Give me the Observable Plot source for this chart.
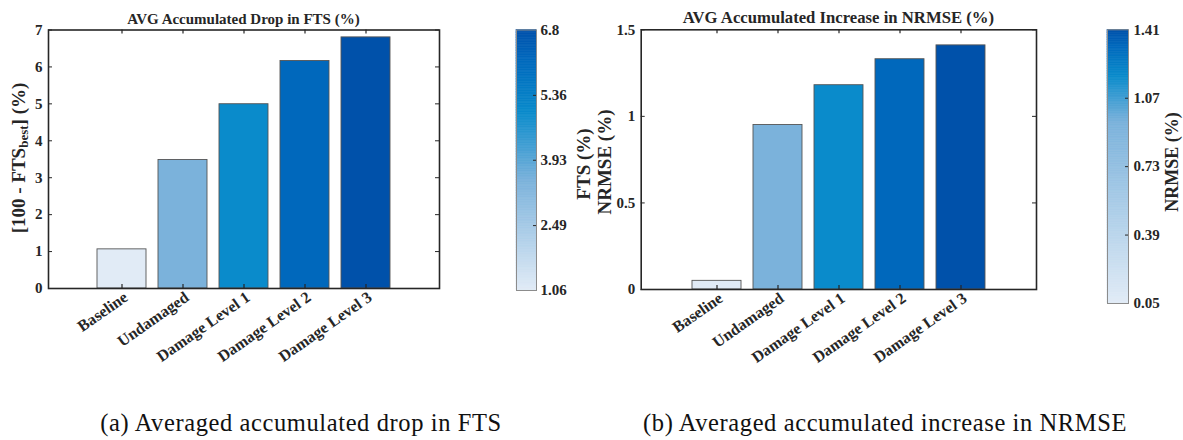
<!DOCTYPE html>
<html>
<head>
<meta charset="utf-8">
<script src="https://cdn.jsdelivr.net/npm/d3@7"></script>
<script src="https://cdn.jsdelivr.net/npm/@observablehq/plot@0.6"></script>
<style>
  html, body { margin: 0; padding: 0; background: #fff; }
  #wrap { position: relative; width: 1183px; height: 440px; overflow: hidden; font-family: "Liberation Serif", "Times New Roman", serif; color: #262626; }
  #wrap svg { position: absolute; max-width: none; }
  .rlab { position: absolute; font-weight: bold; font-size: 19px; line-height: 14px; white-space: nowrap; transform: translate(-50%, -50%) rotate(-90deg); }
  .rlab sub { font-size: 13px; vertical-align: -3px; line-height: 0; }
  .ttl { position: absolute; font-weight: bold; font-size: 15px; line-height: 15px; white-space: nowrap; transform: translateX(-50%); }
  .cap { position: absolute; font-size: 24.5px; line-height: 24px; letter-spacing: 0.6px; white-space: nowrap; transform: translateX(-50%); color: #111; }
</style>
</head>
<body>
<div id="wrap"></div>
<script>
// ---- data ----
const categories = ["Baseline", "Undamaged", "Damage Level 1", "Damage Level 2", "Damage Level 3"];
const ftsDrop = [1.06, 3.48, 4.99, 6.16, 6.80];
const nrmseIncrease = [0.05, 0.95, 1.18, 1.33, 1.41];
const barColors = ["#e1ebf6", "#7bb2db", "#0a8bcb", "#0068bc", "#0051aa"];
const ftsYTicks = [0, 1, 2, 3, 4, 5, 6, 7];
const nrmseYTicks = [0, 0.5, 1, 1.5];
const ftsBarTicks = ["1.06", "2.49", "3.93", "5.36", "6.8"];
const nrmseBarTicks = ["0.05", "0.39", "0.73", "1.07", "1.41"];
const titles = ["AVG Accumulated Drop in FTS (%)", "AVG Accumulated Increase in NRMSE (%)"];
const captions = ["(a) Averaged accumulated drop in FTS", "(b) Averaged accumulated increase in NRMSE"];

const wrap = document.getElementById("wrap");
const INK = "#262626";
const FONT = "Liberation Serif, Times New Roman, serif";

function place(node, left, top) {
  node.style.left = left + "px";
  node.style.top = top + "px";
  wrap.appendChild(node);
}

function htmlText(cls, html, left, top, extra) {
  const d = document.createElement("div");
  d.className = cls;
  d.innerHTML = html;
  if (extra) Object.assign(d.style, extra);
  place(d, left, top);
}

function barPanel(cfg) {
  const colorFn = d3.scaleLinear().domain(cfg.values).range(barColors).interpolate(d3.interpolateRgb);
  const data = categories.map((c, i) => ({cat: c, v: cfg.values[i], col: colorFn(cfg.values[i])}));
  const W = cfg.width, H = cfg.height;
  const innerW = W - cfg.ml - cfg.mr;
  const innerH = H - cfg.mt - cfg.mb;
  const svg = Plot.plot({
    width: W, height: H,
    marginLeft: cfg.ml, marginRight: cfg.mr, marginTop: cfg.mt, marginBottom: cfg.mb,
    x: {type: "band", domain: categories, paddingInner: 0.2, paddingOuter: 0.8},
    y: {domain: cfg.yDomain},
    color: {type: "identity"},
    style: {fontFamily: FONT, fontWeight: "bold", fontSize: "15px", color: INK, background: "transparent", overflow: "visible"},
    marks: [
      Plot.barY(data, {x: "cat", y: "v", fill: "col", stroke: "#555", strokeWidth: 0.9}),
      Plot.tickY(cfg.yTicks, {y: d => d, insetRight: innerW - 4, stroke: INK, strokeWidth: 1}),
      Plot.tickY(cfg.yTicks, {y: d => d, insetLeft: innerW - 4, stroke: INK, strokeWidth: 1}),
      Plot.tickX(categories, {x: d => d, insetTop: innerH - 4, stroke: INK, strokeWidth: 1.2}),
      Plot.tickX(categories, {x: d => d, insetBottom: innerH - 4, stroke: INK, strokeWidth: 1.2}),
      Plot.frame({stroke: INK, strokeWidth: 1.6}),
      Plot.axisY({ticks: cfg.yTicks, tickSize: 0, tickPadding: 6, label: null, tickFormat: d => String(d), fontSize: 15}),
      Plot.axisX({tickSize: 0, tickPadding: 7, tickRotate: -35, label: null, dx: 4, fontSize: 16})
    ]
  });
  place(svg, cfg.left, 0);
  htmlText("ttl", cfg.title, cfg.left + cfg.ml + innerW / 2, cfg.titleTop, {fontSize: cfg.titleSize + "px", lineHeight: cfg.titleSize + "px"});
}

function colorBar(cfg) {
  const lo = d3.min(cfg.values), hi = d3.max(cfg.values);
  const colorFn = d3.scaleLinear().domain(cfg.values).range(barColors).interpolate(d3.interpolateRgb);
  const N = 160;
  const slices = d3.range(N).map(i => {
    const a = lo + (hi - lo) * i / N, b = lo + (hi - lo) * (i + 1) / N;
    return {y1: a, y2: b, col: colorFn((a + b) / 2)};
  });
  const tickVals = cfg.tickLabels.map(Number);
  const inner = tickVals.slice(1, -1);
  const W = cfg.width, H = cfg.height;
  const innerW = W - cfg.mr;
  const svg = Plot.plot({
    width: W, height: H,
    marginLeft: 0, marginRight: cfg.mr, marginTop: cfg.mt, marginBottom: cfg.mb,
    y: {domain: [lo, hi]},
    color: {type: "identity"},
    style: {fontFamily: FONT, fontWeight: "bold", fontSize: "15px", color: INK, background: "transparent", overflow: "visible"},
    marks: [
      Plot.rectY(slices, {y1: "y1", y2: "y2", fill: "col", stroke: "col", strokeWidth: 0.6}),
      Plot.tickY(inner, {y: d => d, insetLeft: innerW - 3, stroke: INK, strokeWidth: 1}),
      Plot.frame({stroke: "#8c8c8c", strokeWidth: 1}),
      Plot.axisY({anchor: "right", ticks: tickVals, tickSize: 0, tickPadding: cfg.pad, label: null,
        tickFormat: d => cfg.tickLabels[tickVals.indexOf(d)], fontSize: 15})
    ]
  });
  place(svg, cfg.left, 0);
}

// Panel (a)
barPanel({left: 0, width: 460, height: 400, ml: 48, mr: 21, mt: 29.5, mb: 112,
  values: ftsDrop, yDomain: [0, 7], yTicks: ftsYTicks, title: titles[0], titleSize: 15, titleTop: 12});
colorBar({left: 516, width: 100, height: 300, mr: 80, mt: 29.5, mb: 10, pad: 4,
  values: ftsDrop, tickLabels: ftsBarTicks});
htmlText("rlab", "[100 - FTS<sub>best</sub>] (%)", 19, 158);
htmlText("rlab", "FTS (%)", 584, 164);

// Panel (b)
barPanel({left: 590, width: 460, height: 400, ml: 50.7, mr: 14, mt: 29.3, mb: 111,
  values: nrmseIncrease, yDomain: [0, 1.5], yTicks: nrmseYTicks, title: titles[1], titleSize: 16.7, titleTop: 10});
colorBar({left: 1107, width: 76, height: 320, mr: 55, mt: 29.3, mb: 17, pad: 5,
  values: nrmseIncrease, tickLabels: nrmseBarTicks});
htmlText("rlab", "NRMSE (%)", 605, 162);
htmlText("rlab", "NRMSE (%)", 1172, 162, {fontSize: "18px"});

// Captions
htmlText("cap", captions[0], 301, 411);
htmlText("cap", captions[1], 885, 411);
</script>
</body>
</html>
